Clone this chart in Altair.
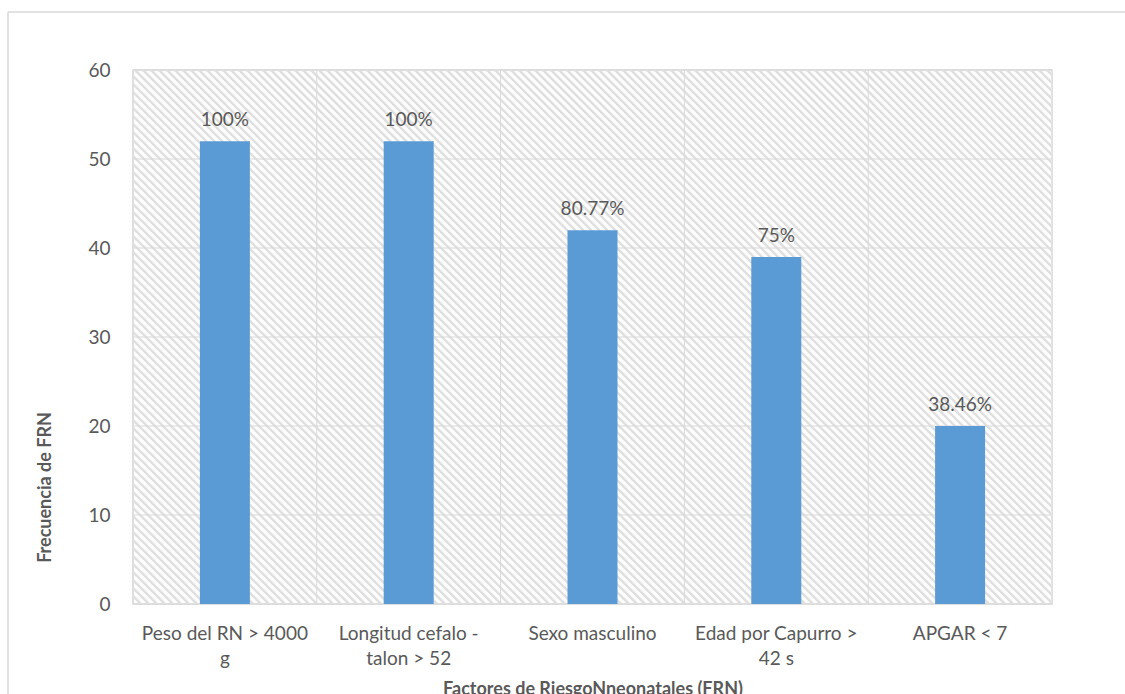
import json
import altair as alt
import numpy as np
import pandas as pd

# ---- data ----
categories = [
    "Peso del RN > 4000 g",
    "Longitud cefalo - talon > 52",
    "Sexo masculino",
    "Edad por Capurro > 42 s",
    "APGAR < 7",
]
label_lines = [
    ["Peso del RN > 4000", "g"],
    ["Longitud cefalo -", "talon > 52"],
    ["Sexo masculino"],
    ["Edad por Capurro >", "42 s"],
    ["APGAR < 7"],
]
frecuencia = [52, 52, 42, 39, 20]
porcentajes = ["100%", "100%", "80.77%", "75%", "38.46%"]
y_ticks = [0, 10, 20, 30, 40, 50, 60]

# ---- layout / style ----
W, H = 919, 534
TXT = "#595959"
GRID = "#d9d9d9"
FONT = "Lato"

df = pd.DataFrame({"cat": categories, "freq": frecuencia, "pct": porcentajes})
ticks_df = pd.DataFrame({"t": y_ticks})

label_map = json.dumps({c: l for c, l in zip(categories, label_lines)})

x_axis = alt.Axis(
    title="Factores de RiesgoNneonatales (FRN)",
    labelExpr=f"{label_map}[datum.label]",
    labelAngle=0,
    labelFontSize=19,
    labelColor=TXT,
    labelLineHeight=25,
    labelPadding=20,
    ticks=False,
    tickSize=0,
    domain=False,
    grid=False,
    titleFontSize=18,
    titleFontWeight="bold",
    titleColor=TXT,
    titleY=90,
    titleBaseline="alphabetic",
)
y_axis = alt.Axis(
    title="Frecuencia de FRN",
    values=y_ticks,
    labelFontSize=19,
    labelColor=TXT,
    labelPadding=23,
    ticks=False,
    tickSize=0,
    domain=False,
    grid=False,
    titleFontSize=18,
    titleFontWeight="bold",
    titleColor=TXT,
    titleX=-88,
    titleY=417,
    titleAlign="center",
    titleBaseline="middle",
)
x_scale = alt.Scale(paddingInner=0, paddingOuter=0)
y_scale = alt.Scale(domain=[0, 60], nice=False)

# diagonal hatch (background pattern of the plot area), in pixel space
c = np.arange(-H, W + 8, 8)
hatch_df = pd.DataFrame({"hx": c, "hx2": c + H, "hy": 0, "hy2": H})
hatch = alt.Chart(hatch_df).mark_rule(
    color="#e0e0e0", strokeWidth=2.6, clip=True
).encode(
    x=alt.X("hx:Q", scale=None, axis=None),
    x2="hx2:Q",
    y=alt.Y("hy:Q", scale=None, axis=None),
    y2="hy2:Q",
)

hgrid = alt.Chart(ticks_df).mark_rule(color=GRID, strokeWidth=1).encode(
    y=alt.Y("t:Q", scale=y_scale, axis=y_axis)
)
vgrid = alt.Chart(df).mark_rule(color=GRID, strokeWidth=1).encode(
    x=alt.X("cat:N", sort=categories, scale=x_scale, axis=x_axis, bandPosition=0),
    y=alt.datum(0),
    y2=alt.datum(60),
)
bars = alt.Chart(df).mark_bar(size=50, color="#5b9bd5").encode(
    x=alt.X("cat:N", sort=categories, scale=x_scale, axis=x_axis),
    y=alt.Y("freq:Q", scale=y_scale, axis=y_axis),
)
labels = alt.Chart(df).mark_text(
    dy=-15, baseline="alphabetic", fontSize=19, color=TXT, font=FONT
).encode(
    x=alt.X("cat:N", sort=categories, scale=x_scale, axis=x_axis),
    y=alt.Y("freq:Q", scale=y_scale, axis=y_axis),
    text="pct:N",
)

# outer chart-area frame (cropped at right and bottom in the reference)
one = pd.DataFrame({"a": [0]})
frame_top = alt.Chart(one).mark_rule(color=GRID, strokeWidth=1.5).encode(
    x=alt.value(-125), x2=alt.value(1200), y=alt.value(-58)
)
frame_left = alt.Chart(one).mark_rule(color=GRID, strokeWidth=1.5).encode(
    x=alt.value(-125), y=alt.value(-58), y2=alt.value(800)
)

main = alt.layer(hgrid, vgrid, bars, labels, frame_top, frame_left)

chart = (
    alt.layer(hatch, main)
    .resolve_scale(x="independent", y="independent")
    .properties(
        width=W,
        height=H,
        autosize=alt.AutoSizeParams(type="none"),
        padding={"left": 133, "top": 70, "right": 73, "bottom": 90},
        background="white",
    )
    .configure(font=FONT)
    .configure_view(stroke=GRID, strokeWidth=1.5)
)

chart.save("out.html", embed_options={"renderer": "svg", "actions": False})
